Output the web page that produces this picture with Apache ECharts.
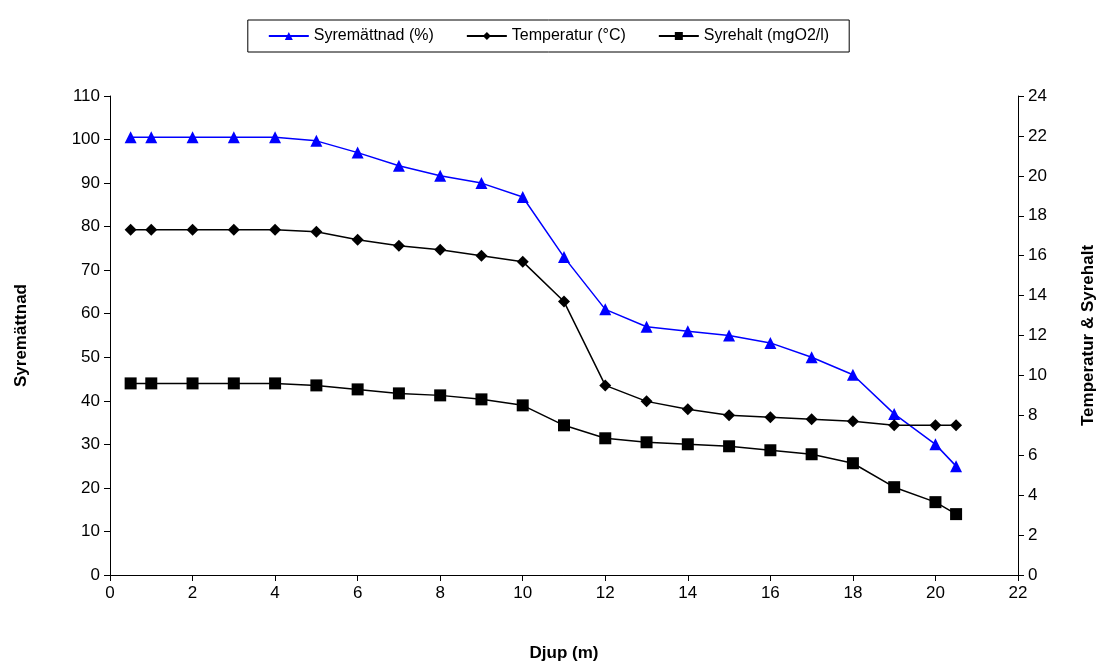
<!DOCTYPE html>
<html><head><meta charset="utf-8">
<script src="https://cdn.jsdelivr.net/npm/echarts@6/dist/echarts.min.js"></script>
<style>html,body{margin:0;background:#fff}#main{width:1097px;height:664px}</style>
</head><body><div id="main"></div>
<script>
// djup (m) och mätvärden
var djup = [0.5, 1, 2, 3, 4, 5, 6, 7, 8, 9, 10, 11, 12, 13, 14, 15, 16, 17, 18, 19, 20, 20.5];
var syremattnad = [100.5, 100.5, 100.5, 100.5, 100.5, 99.7, 97, 94, 91.7, 90, 86.8, 73, 61, 57, 56, 55, 53.3, 50, 46, 37, 30, 25];
var temperatur = [17.3, 17.3, 17.3, 17.3, 17.3, 17.2, 16.8, 16.5, 16.3, 16.0, 15.7, 13.7, 9.5, 8.7, 8.3, 8.0, 7.9, 7.8, 7.7, 7.5, 7.5, 7.5];
var syrehalt = [9.6, 9.6, 9.6, 9.6, 9.6, 9.5, 9.3, 9.1, 9.0, 8.8, 8.5, 7.5, 6.85, 6.65, 6.55, 6.45, 6.25, 6.05, 5.6, 4.4, 3.65, 3.05];

function pairs(ys) {
    return djup.map(function (x, i) { return [x, ys[i]]; });
}

var myChart = echarts.init(document.getElementById('main'));
var font = 'Liberation Sans, Arial, sans-serif';
var axisCommon = {
    axisLine: { show: true, lineStyle: { color: '#000' } },
    axisTick: { show: true, inside: false, length: 6, lineStyle: { color: '#000' } },
    axisLabel: { color: '#000', fontSize: 17, fontFamily: font, margin: 10 },
    splitLine: { show: false }
};

var option = {
    animation: false,
    legend: {
        top: 20, left: 'center',
        itemWidth: 40, itemHeight: 10, itemGap: 32,
        padding: [8, 20],
        borderColor: '#000', borderWidth: 1,
        textStyle: { color: '#000', fontSize: 16, fontFamily: font },
        data: ['Syremättnad (%)', 'Temperatur (°C)', 'Syrehalt (mgO2/l)']
    },
    grid: { left: 110, right: 79, top: 96, bottom: 89, outerBoundsMode: 'none' },
    xAxis: Object.assign({}, axisCommon, {
        type: 'value', min: 0, max: 22, interval: 2,
        name: 'Djup (m)', nameLocation: 'middle', nameGap: 70,
        nameTextStyle: { color: '#000', fontSize: 17, fontWeight: 'bold', fontFamily: font }
    }),
    yAxis: [
        Object.assign({}, axisCommon, {
            type: 'value', min: 0, max: 110, interval: 10,
            name: 'Syremättnad', nameLocation: 'middle', nameGap: 80,
            nameTextStyle: { color: '#000', fontSize: 17, fontWeight: 'bold', fontFamily: font }
        }),
        Object.assign({}, axisCommon, {
            type: 'value', min: 0, max: 24, interval: 2, position: 'right',
            name: 'Temperatur & Syrehalt', nameLocation: 'middle', nameGap: 62, nameRotate: 90,
            nameTextStyle: { color: '#000', fontSize: 17, fontWeight: 'bold', fontFamily: font }
        })
    ],
    series: [
        {
            name: 'Syremättnad (%)', type: 'line', yAxisIndex: 0,
            data: pairs(syremattnad),
            symbol: 'triangle', symbolSize: 12,
            lineStyle: { color: '#0000ff', width: 1.5 },
            itemStyle: { color: '#0000ff' }
        },
        {
            name: 'Temperatur (°C)', type: 'line', yAxisIndex: 1,
            data: pairs(temperatur),
            symbol: 'diamond', symbolSize: 12,
            lineStyle: { color: '#000', width: 1.5 },
            itemStyle: { color: '#000' }
        },
        {
            name: 'Syrehalt (mgO2/l)', type: 'line', yAxisIndex: 1,
            data: pairs(syrehalt),
            symbol: 'rect', symbolSize: 12,
            lineStyle: { color: '#000', width: 1.5 },
            itemStyle: { color: '#000' }
        }
    ]
};
myChart.setOption(option);
</script>
</body></html>
